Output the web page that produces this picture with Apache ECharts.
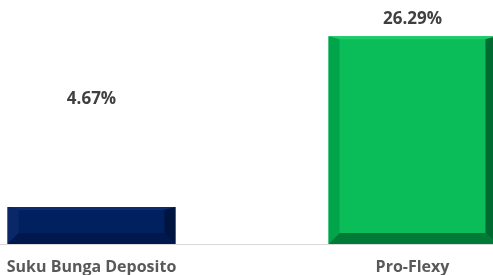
<!DOCTYPE html>
<html>
<head>
<meta charset="utf-8">
<script src="https://cdn.jsdelivr.net/npm/echarts@6/dist/echarts.min.js"></script>
<style>
  html, body { margin: 0; padding: 0; background: #fff; }
  #container { width: 493px; height: 275px; }
</style>
</head>
<body>
<div id="container"></div>
<script>
var categories = ['Suku Bunga Deposito', 'Pro-Flexy'];
var values = [4.67, 26.29];
var labels = ['4.67%', '26.29%'];

// bar face + bevel colours: [face, top, left, right, bottom]
var shades = [
  ['#002060', '#0d2b70', '#0a2868', '#001440', '#00184d'],
  ['#0bbd58', '#1ccc68', '#00a54b', '#006b30', '#007a36']
];

var myChart = echarts.init(document.getElementById('container'));

function bevel(params, api) {
  var i = params.dataIndex;
  var top = api.coord([api.value(0), api.value(1)]);
  var base = api.coord([api.value(0), 0]);
  var w = api.size([1, 0])[0] * 0.523;
  var x0 = top[0] - w / 2, x1 = top[0] + w / 2;
  var y0 = top[1], y1 = base[1];
  var b = 11, bt = 3;
  var c = shades[i];
  return {
    type: 'group',
    children: [
      { type: 'rect', shape: { x: x0, y: y0, width: w, height: y1 - y0 }, style: { fill: c[0] } },
      { type: 'polygon', shape: { points: [[x0, y0], [x1, y0], [x1 - b, y0 + bt], [x0 + b, y0 + bt]] }, style: { fill: c[1] } },
      { type: 'polygon', shape: { points: [[x0, y0], [x0 + b, y0 + bt], [x0 + b, y1 - b], [x0, y1]] }, style: { fill: c[2] } },
      { type: 'polygon', shape: { points: [[x1, y0], [x1 - b, y0 + bt], [x1 - b, y1 - b], [x1, y1]] }, style: { fill: c[3] } },
      { type: 'polygon', shape: { points: [[x0, y1], [x0 + b, y1 - b], [x1 - b, y1 - b], [x1, y1]] }, style: { fill: c[4] } }
    ]
  };
}

var option = {
  animation: false,
  grid: { left: -69, right: -80, top: 7, bottom: 31, outerBoundsMode: 'none', containLabel: false },
  xAxis: {
    type: 'category',
    data: categories,
    axisLine: { lineStyle: { color: '#d9d9d9', width: 1 } },
    axisTick: { show: false },
    axisLabel: {
      margin: 15,
      fontFamily: 'Open Sans',
      fontWeight: 'bold',
      fontSize: 16,
      color: '#595959'
    }
  },
  yAxis: {
    type: 'value',
    min: 0,
    max: 30,
    show: false,
    splitLine: { show: false }
  },
  series: [{
    type: 'custom',
    renderItem: bevel,
    data: categories.map(function (c, i) { return [i, values[i]]; }),
    z: 2
  }, {
    type: 'bar',
    barWidth: '52.3%',
    data: values.map(function (v, i) {
      return {
        value: v,
        label: { offset: i === 0 ? [0, -90] : [0, 0] }
      };
    }),
    itemStyle: { color: 'rgba(0,0,0,0)' },
    label: {
      show: true,
      position: 'top',
      distance: 9,
      formatter: function (p) { return labels[p.dataIndex]; },
      fontFamily: 'Open Sans',
      fontWeight: 'bold',
      fontSize: 17,
      color: '#404040'
    },
    z: 3
  }]
};
myChart.setOption(option);
</script>
</body>
</html>
